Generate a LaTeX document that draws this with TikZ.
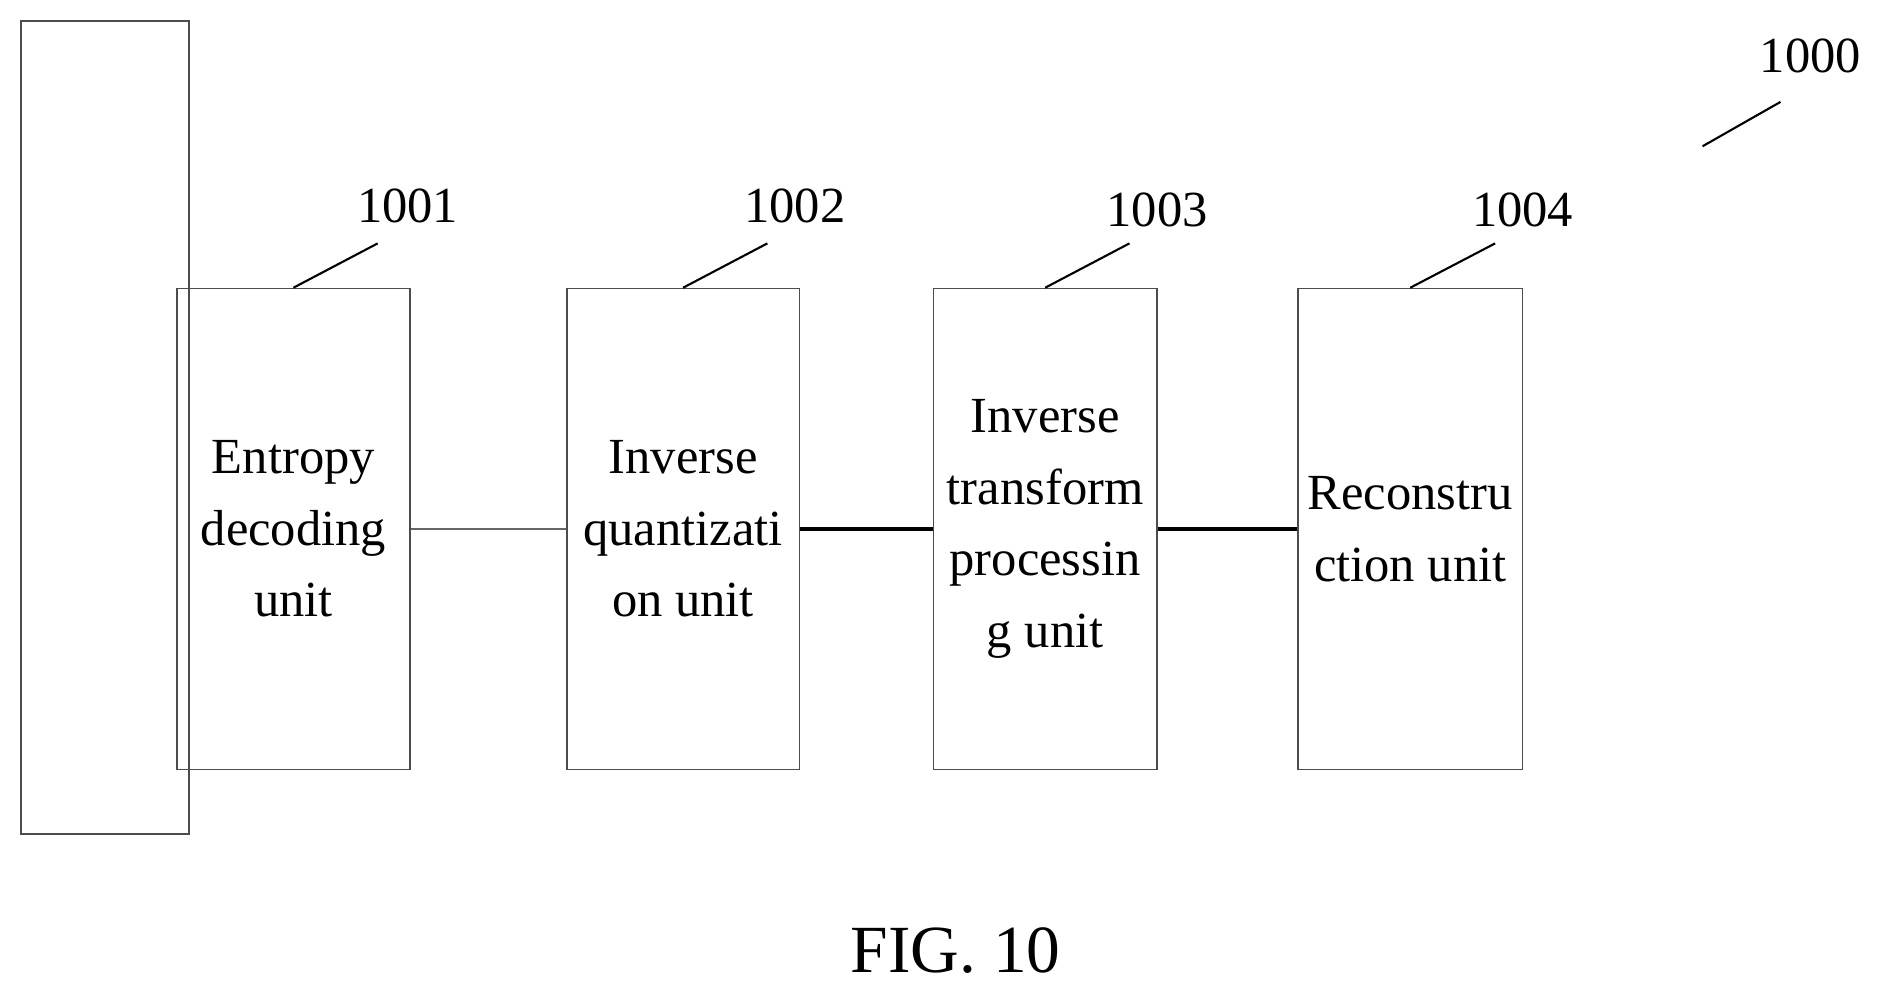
\documentclass[tikz,border=0pt]{standalone}
\usepackage{fontspec}
\setmainfont{Liberation Serif}
\begin{document}
\begin{tikzpicture}[x=0.1mm,y=-0.1mm,
  box/.style={draw=black!70,line width=0.4pt,minimum width=#1,minimum height=401*0.1mm,anchor=north west,inner sep=0pt,align=center,font=\fontsize{12}{17}\selectfont},
  lbl/.style={font=\fontsize{12}{14}\selectfont},
  lead/.style={line width=0.5pt}]
\useasboundingbox (0,0) rectangle (1568,828);
\node[draw=black!70,line width=0.5pt,minimum width=140.1cm*0.01,minimum height=67.8mm,anchor=north west,inner sep=0pt] (outer) at (17,17) {};
\node[box=19.4mm] (b1) at (147,240) {Entropy\\decoding\\unit};
\node[box=19.4mm] (b2) at (472,240) {Inverse\\quantizati\\on unit};
\node[box=18.6mm] (b3) at (778,240) {Inverse\\transform\\processin\\g unit};
\node[box=18.7mm] (b4) at (1082,240) {Reconstru\\ction unit};
\draw[line width=0.3pt,black!60] (b1.east) -- (b2.west);
\draw[line width=1pt] (b2.east) -- (b3.west);
\draw[line width=1pt] (b3.east) -- (b4.west);
\coordinate (e1) at (315,203); \coordinate (e2) at (640,203);
\coordinate (e3) at (942,203); \coordinate (e4) at (1247,203);
\coordinate (e0) at (1485,85); \coordinate (s0) at (1420,122);
\draw[lead] (b1.north) -- (e1); \draw[lead] (b2.north) -- (e2);
\draw[lead] (b3.north) -- (e3); \draw[lead] (b4.north) -- (e4);
\draw[lead] (s0) -- (e0);
\node[lbl] (l1) at (340,172) {1001};
\node[lbl] (l2) at (663,172) {1002};
\node[lbl] (l3) at (965,175) {1003};
\node[lbl] (l4) at (1270,175) {1004};
\node[lbl] (l0) at (1510,47) {1000};
\node[font=\fontsize{16}{18}\selectfont] (fig) at (797,793) {FIG. 10};
\end{tikzpicture}
\end{document}
